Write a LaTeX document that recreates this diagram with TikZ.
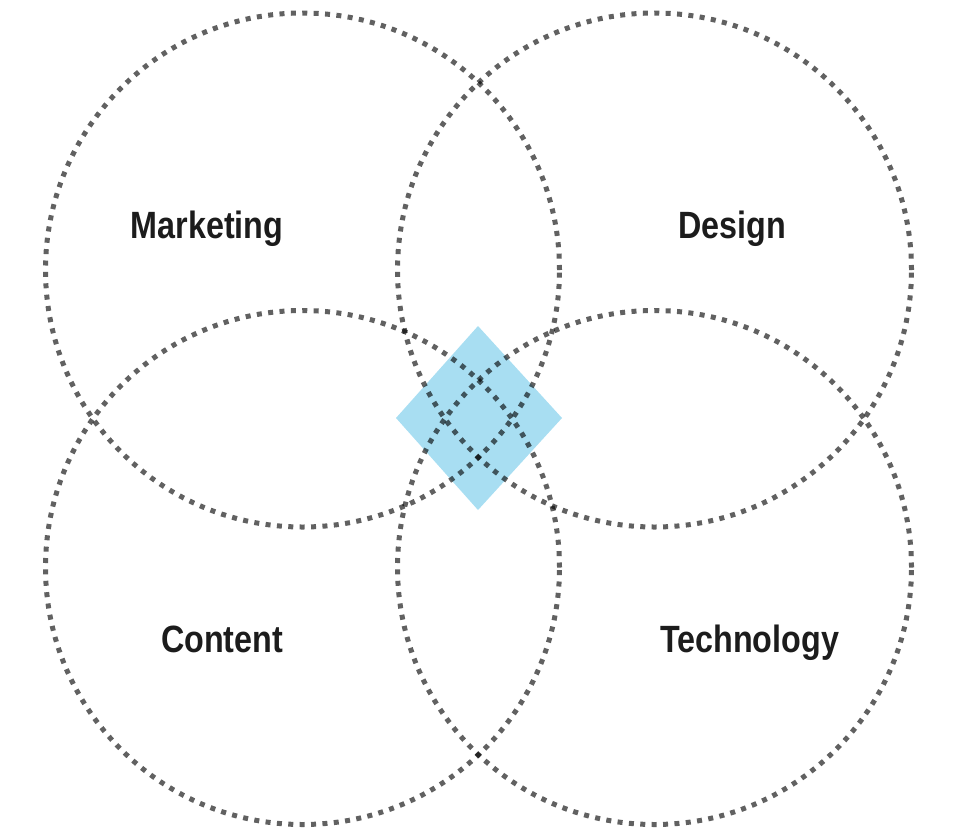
\documentclass[tikz,border=0pt]{standalone}
\usepackage{fontspec}
\setmainfont{Liberation Sans}
\newfontfamily\labelfont[FakeStretch=0.85]{Liberation Sans}
\definecolor{diam}{RGB}{168,222,242}
\definecolor{txt}{RGB}{28,28,28}
\tikzset{
  ring/.style={draw=black, draw opacity=0.62, line width=5pt, dash pattern=on 5pt off 6.4pt},
  lab/.style={font=\labelfont\bfseries\fontsize{38}{40}\selectfont, text=txt, anchor=base, inner sep=0pt}
}
\begin{document}
\begin{tikzpicture}[x=1pt,y=-1pt]
\useasboundingbox (0,0) rectangle (966,838);
\fill[diam] (478,326) coordinate (dt) -- (562,418) coordinate (dr) -- (478,510) coordinate (db) -- (396,418) coordinate (dl) -- cycle;
\node[ring, circle, minimum size=514pt, inner sep=0pt] (tl) at (302.5,270) {};
\node[ring, circle, minimum size=514pt, inner sep=0pt] (tr) at (654.5,270) {};
\node[ring, circle, minimum size=514pt, inner sep=0pt] (bl) at (302.5,567.5) {};
\node[ring, circle, minimum size=514pt, inner sep=0pt] (br) at (654.5,567.5) {};
\node[lab] (m) at (207,238) {Marketing};
\node[lab] (d) at (732.5,238) {Design};
\node[lab] (c) at (222,652) {Content};
\node[lab] (t) at (749.5,652) {Technology};
\end{tikzpicture}
\end{document}
